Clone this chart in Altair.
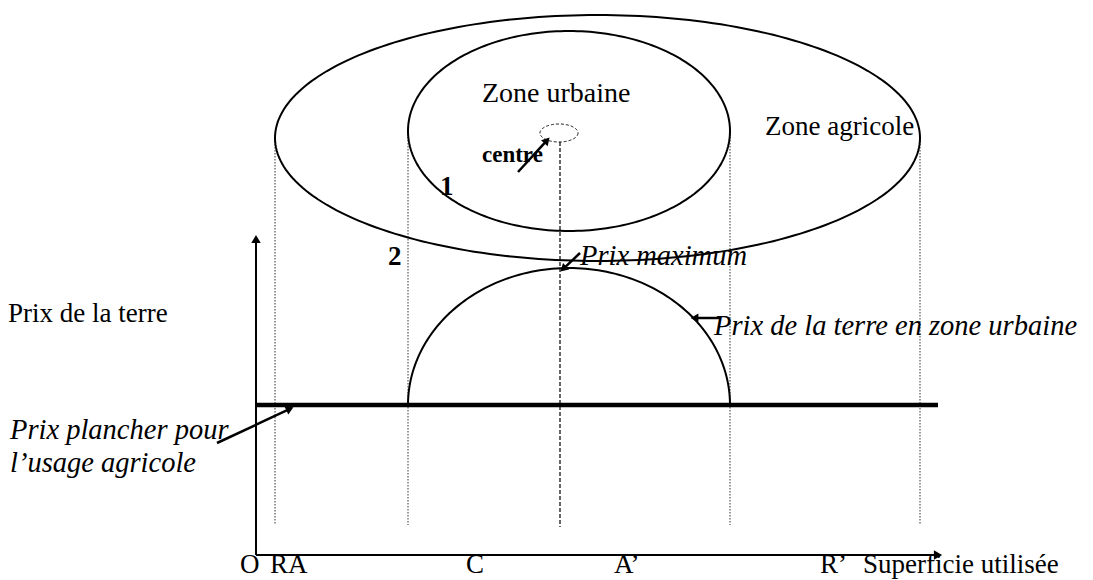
import math
import altair as alt
import numpy as np
import pandas as pd

# ---------------- schematic coordinates (diagram units) ----------------
X0, X1 = 8, 1085
Y0, Y1 = 8, 580

# zones drawn as ellipses: outer = agricultural zone, inner = urban zone, small = centre
zone_names = ["agricole", "urbaine", "centre"]
zone_cx = [597.5, 569, 559]
zone_cy = [138, 131, 133]
zone_rx = [322.5, 161, 19]
zone_ry = [123, 100, 9]

# urban land price curve (half ellipse above the floor price)
urban_left, urban_right, urban_peak, floor_level = 408, 730, 268, 405

# floor price line for agricultural use
floor_from, floor_to = 257, 938

# axes
axis_x, axis_y = 256, 555
axis_top, axis_right = 233, 944

# vertical projection lines
proj_names = ["RA", "C", "centre", "A'", "R'"]
proj_x = [275, 408, 560, 730, 920]
proj_top = [138, 131, 142, 131, 138]
proj_bottom = [525, 525, 527, 525, 525]
proj_dashed = [False, False, True, False, False]

# annotation arrows (start -> tip)
arrow_names = ["centre", "maximum", "urbaine", "plancher"]
arrow_x1 = [518, 580, 720, 217]
arrow_y1 = [172, 253, 318, 443]
arrow_x2 = [550, 560, 690, 294]
arrow_y2 = [137, 272, 318, 407]

# texts
normal_text = ["Zone urbaine", "Zone agricole", "Prix de la terre",
               "O", "RA", "C", "A\u2019", "R\u2019", "Superficie utilisée"]
normal_x = [482, 765, 8, 240, 270, 466, 614, 820, 863]
normal_y = [102, 135, 322, 573, 573, 573, 573, 573, 573]
normal_size = [28, 27, 27, 27, 27, 27, 27, 27, 27]

italic_text = ["Prix maximum", "Prix de la terre en zone urbaine",
               "Prix plancher pour", "l\u2019usage agricole"]
italic_x = [580, 714, 10, 10]
italic_y = [265, 335, 439, 472]

bold_text = ["centre", "1", "2"]
bold_x = [482, 440, 388]
bold_y = [162, 195, 265]
bold_size = [23, 27, 27]

FONT = "Liberation Serif"

# ---------------- build tables ----------------
t = np.linspace(0, 2 * np.pi, 241)
rows = []
for n, cx, cy, rx, ry in zip(zone_names, zone_cx, zone_cy, zone_rx, zone_ry):
    for i, a in enumerate(t):
        rows.append({"zone": n, "i": i, "x": cx + rx * np.cos(a), "y": cy + ry * np.sin(a)})
zones = pd.DataFrame(rows)

ucx = (urban_left + urban_right) / 2
urx = (urban_right - urban_left) / 2
ury = floor_level - urban_peak
tu = np.linspace(np.pi, 2 * np.pi, 121)
urban = pd.DataFrame({"i": range(len(tu)),
                      "x": ucx + urx * np.cos(tu),
                      "y": floor_level + ury * np.sin(tu)})

proj = pd.DataFrame({"name": proj_names, "x": proj_x, "y": proj_top,
                     "y2": proj_bottom, "dashed": proj_dashed})

HEAD = 4.5
arr_rows, head_rows = [], []
for n, x1, y1, x2, y2 in zip(arrow_names, arrow_x1, arrow_y1, arrow_x2, arrow_y2):
    dx, dy = x2 - x1, y2 - y1
    L = math.hypot(dx, dy)
    ux, uy = dx / L, dy / L
    hx, hy = x2 - ux * HEAD, y2 - uy * HEAD
    ang = (math.degrees(math.atan2(dx, -dy)) + 360) % 360
    arr_rows.append({"x": x1, "y": y1, "x2": hx, "y2": hy})
    head_rows.append({"x": hx, "y": hy, "ang": ang})
arrows = pd.DataFrame(arr_rows)
heads = pd.DataFrame(head_rows)

axes_df = pd.DataFrame({"x": [axis_x, axis_x], "y": [axis_y, axis_y],
                        "x2": [axis_x, axis_right - 6], "y2": [axis_top + 6, axis_y]})
axis_heads = pd.DataFrame({"x": [axis_x, axis_right - 6], "y": [axis_top + 6, axis_y],
                           "ang": [0, 90]})
floor_df = pd.DataFrame({"x": [floor_from], "x2": [floor_to], "y": [floor_level]})

normal_df = pd.DataFrame({"t": normal_text, "x": normal_x, "y": normal_y, "s": normal_size})
italic_df = pd.DataFrame({"t": italic_text, "x": italic_x, "y": italic_y})
bold_df = pd.DataFrame({"t": bold_text, "x": bold_x, "y": bold_y, "s": bold_size})

# ---------------- chart ----------------
xs = alt.Scale(domain=[X0, X1], nice=False, zero=False)
ys = alt.Scale(domain=[Y1, Y0], nice=False, zero=False)
X = lambda f="x": alt.X(f"{f}:Q", scale=xs, axis=None)
Y = lambda f="y": alt.Y(f"{f}:Q", scale=ys, axis=None)

zone_main = alt.Chart(zones).transform_filter(alt.datum.zone != "centre").mark_line(
    color="black", strokeWidth=2).encode(X(), Y(), detail="zone:N", order="i:Q")
zone_centre = alt.Chart(zones).transform_filter(alt.datum.zone == "centre").mark_line(
    color="black", strokeWidth=1, strokeDash=[3, 2]).encode(X(), Y(), order="i:Q")

urban_line = alt.Chart(urban).mark_line(color="black", strokeWidth=2).encode(
    X(), Y(), order="i:Q")

proj_dot = alt.Chart(proj).transform_filter("!datum.dashed").mark_rule(
    color="#333333", strokeWidth=1, strokeDash=[1.5, 1.5]).encode(
    X(), Y(), y2="y2:Q")
proj_dash = alt.Chart(proj).transform_filter("datum.dashed").mark_rule(
    color="black", strokeWidth=1.2, strokeDash=[4, 2]).encode(
    X(), Y(), y2="y2:Q")

floor_line = alt.Chart(floor_df).mark_rule(color="black", strokeWidth=4.5).encode(
    X(), Y(), x2="x2:Q")

axes_lines = alt.Chart(axes_df).mark_rule(color="black", strokeWidth=2).encode(
    X(), Y(), x2="x2:Q", y2="y2:Q")
axes_arrow = alt.Chart(axis_heads).mark_point(
    shape="triangle-up", filled=True, color="black", opacity=1, size=90).encode(
    X(), Y(), angle=alt.Angle("ang:Q", scale=None))

arrow_lines = alt.Chart(arrows).mark_rule(color="black", strokeWidth=2.5).encode(
    X(), Y(), x2="x2:Q", y2="y2:Q")
arrow_heads = alt.Chart(heads).mark_point(
    shape="triangle-up", filled=True, color="black", opacity=1, size=80).encode(
    X(), Y(), angle=alt.Angle("ang:Q", scale=None))

txt_normal = alt.Chart(normal_df).mark_text(
    font=FONT, align="left", baseline="alphabetic", color="black").encode(
    X(), Y(), text="t:N", size=alt.Size("s:Q", scale=None))
txt_italic = alt.Chart(italic_df).mark_text(
    font=FONT, fontSize=28.5, fontStyle="italic", align="left", baseline="alphabetic",
    color="black").encode(X(), Y(), text="t:N")
txt_bold = alt.Chart(bold_df).mark_text(
    font=FONT, fontWeight="bold", align="left", baseline="alphabetic", color="black").encode(
    X(), Y(), text="t:N", size=alt.Size("s:Q", scale=None))

chart = alt.layer(
    proj_dot, proj_dash, zone_main, zone_centre, urban_line, floor_line,
    axes_lines, axes_arrow, arrow_lines, arrow_heads,
    txt_normal, txt_italic, txt_bold,
).properties(
    width=X1 - X0, height=Y1 - Y0, padding=0,
    autosize=alt.AutoSizeParams(type="none"),
).configure_view(stroke=None)

chart.save("out.html", embed_options={"renderer": "svg", "actions": False})
